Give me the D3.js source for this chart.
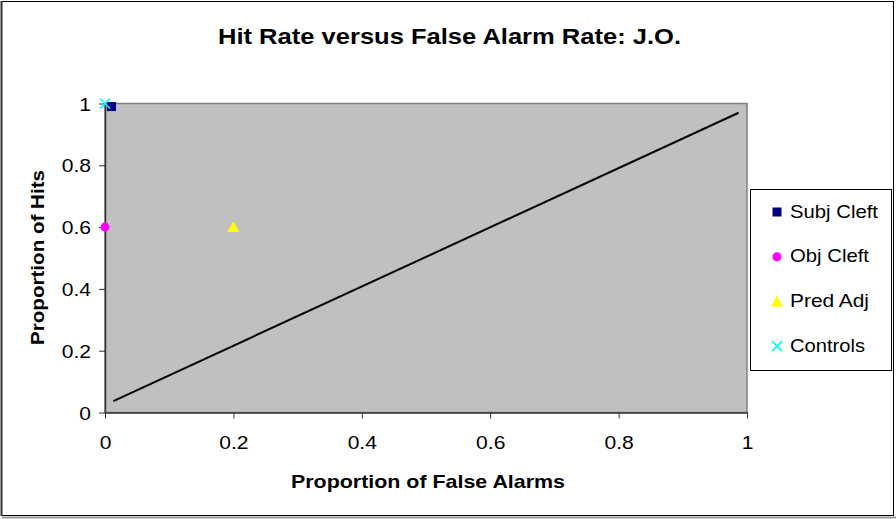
<!DOCTYPE html>
<html><head><meta charset="utf-8">
<script src="https://cdn.jsdelivr.net/npm/d3@7"></script>
<style>body{margin:0;background:#fff}svg{display:block;font-family:"Liberation Sans",Arial,sans-serif}</style>
</head><body><svg id="c" width="896" height="519"></svg>
<script>
const seriesNames = ["Subj Cleft","Obj Cleft","Pred Adj","Controls"];
const seriesX = [0.01, 0, 0.2, 0];
const seriesY = [0.99, 0.6, 0.6, 1.0];
const seriesColors = ["#000080","#ff00ff","#ffff00","#00ffff"];
const seriesShapes = ["square","circle","triangle","cross"];
const lineX = [0.013, 0.987];
const lineY = [0.037, 0.970];
const xTicks = [0,0.2,0.4,0.6,0.8,1];
const yTicks = [0,0.2,0.4,0.6,0.8,1];

const svg = d3.select("#c");
svg.append("rect").attr("x",1.5).attr("y",1.5).attr("width",892).attr("height",514)
  .attr("fill","#fff").attr("stroke","#000").attr("stroke-width",1);
svg.append("line").attr("x1",2).attr("x2",896).attr("y1",517.5).attr("y2",517.5).attr("stroke","#999").attr("stroke-width",2);
svg.append("line").attr("x1",1.5).attr("x2",1.5).attr("y1",1).attr("y2",516).attr("stroke","#333").attr("stroke-width",2);

const L=105, R=747, T=103.5, B=412.5;
const x = d3.scaleLinear().domain([0,1]).range([L,R]);
const y = d3.scaleLinear().domain([0,1]).range([B,T]);

svg.append("rect").attr("x",L).attr("y",T).attr("width",R-L).attr("height",B-T)
  .attr("fill","#c0c0c0").attr("stroke","#808080").attr("stroke-width",1.5);

const fmt = d => d===0?"0":d===1?"1":String(d);
const xa = svg.append("g").attr("transform",`translate(0,${B})`)
  .call(d3.axisBottom(x).tickValues(xTicks).tickFormat(fmt).tickSizeInner(6).tickSizeOuter(0).tickPadding(17));
const ya = svg.append("g").attr("transform",`translate(${L},0)`)
  .call(d3.axisLeft(y).tickValues(yTicks).tickFormat(fmt).tickSizeInner(6).tickSizeOuter(0).tickPadding(8));
[xa,ya].forEach(a=>{
  a.select(".domain").attr("stroke","#333").attr("stroke-width",1.5);
  a.selectAll(".tick line").attr("stroke","#333");
  a.selectAll("text").attr("font-size",18.5).attr("fill","#000").attr("font-family","Liberation Sans, Arial, sans-serif")
    .each(function(){ const w=this.getComputedTextLength(); d3.select(this).attr("textLength",w*1.14).attr("lengthAdjust","spacingAndGlyphs"); });
});
ya.selectAll("text").attr("dy","0.36em");

svg.append("path").datum(lineX.map((v,i)=>[v,lineY[i]]))
  .attr("d",d3.line().x(d=>x(d[0])).y(d=>y(d[1])))
  .attr("stroke","#000").attr("stroke-width",2).attr("fill","none");

function marker(g, shape, color, cx, cy){
  if(shape==="square") g.append("rect").attr("x",cx-4.5).attr("y",cy-4.5).attr("width",9).attr("height",9).attr("fill",color);
  else if(shape==="circle") g.append("circle").attr("cx",cx).attr("cy",cy).attr("r",4.5).attr("fill",color);
  else if(shape==="triangle") g.append("path").attr("d",`M${cx},${cy-6}L${cx+6},${cy+5}L${cx-6},${cy+5}Z`).attr("fill",color);
  else g.append("path").attr("d",`M${cx-5},${cy-5}L${cx+5},${cy+5}M${cx+5},${cy-5}L${cx-5},${cy+5}`).attr("stroke",color).attr("stroke-width",1.6);
}
const pts = svg.append("g");
seriesNames.forEach((n,i)=>marker(pts, seriesShapes[i], seriesColors[i], x(seriesX[i]), y(seriesY[i])));

const legendWidths = [88,79,79,75];
const lg = svg.append("g");
lg.append("rect").attr("x",750.5).attr("y",189.5).attr("width",141).attr("height",181).attr("fill","#fff").attr("stroke","#000");
seriesNames.forEach((n,i)=>{
  const cy = 211 + i*44.7;
  marker(lg, seriesShapes[i], seriesColors[i], 777, cy+1);
  lg.append("text").attr("x",790).attr("y",cy).attr("dy","0.36em").attr("font-size",18.5)
    .attr("textLength",legendWidths[i]).attr("lengthAdjust","spacingAndGlyphs").text(n);
});

svg.append("text").attr("x",218).attr("y",44).attr("font-size",22.5).attr("font-weight","bold")
  .attr("textLength",463).attr("lengthAdjust","spacingAndGlyphs").text("Hit Rate versus False Alarm Rate: J.O.");
svg.append("text").attr("x",291).attr("y",488).attr("font-size",18.5).attr("font-weight","bold")
  .attr("textLength",274).attr("lengthAdjust","spacingAndGlyphs").text("Proportion of False Alarms");
svg.append("text").attr("transform","translate(44,345) rotate(-90)").attr("font-size",18.5).attr("font-weight","bold")
  .attr("textLength",175).attr("lengthAdjust","spacingAndGlyphs").text("Proportion of Hits");
</script></body></html>
